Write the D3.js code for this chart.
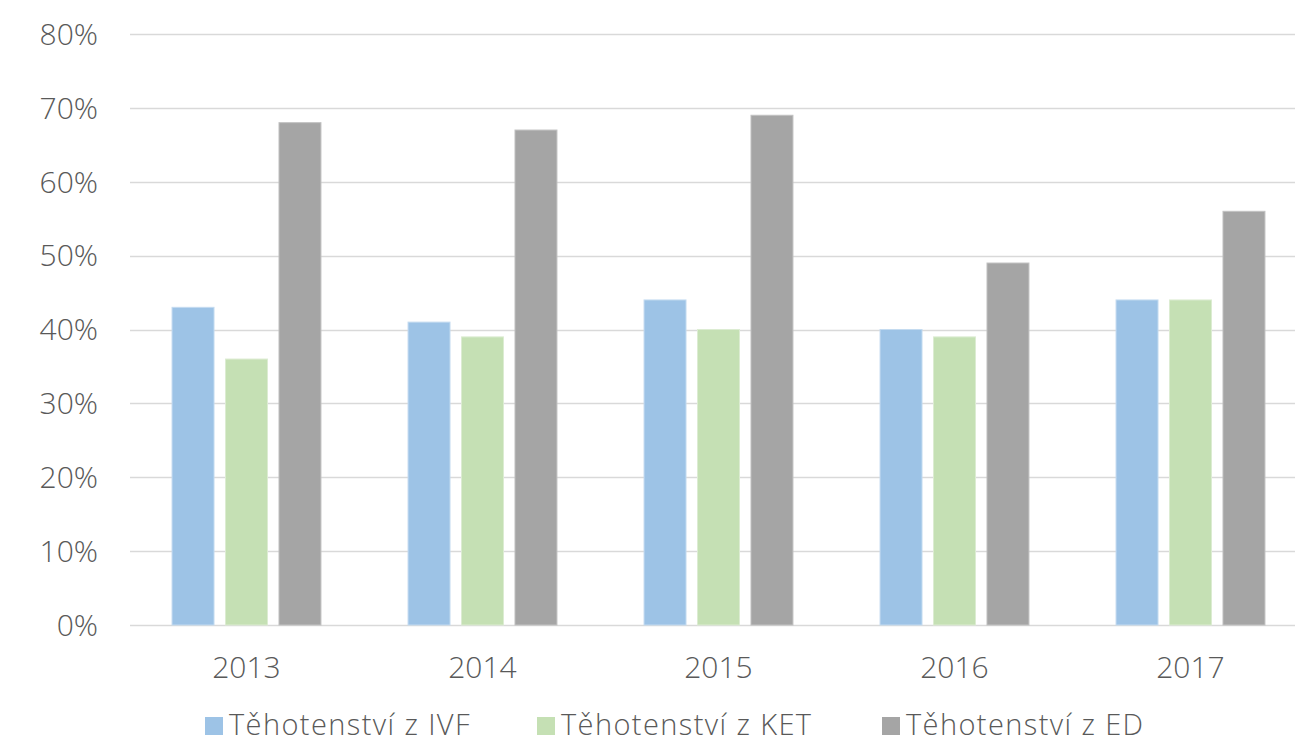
<!DOCTYPE html>
<html>
<head>
<meta charset="utf-8">
<script src="https://cdn.jsdelivr.net/npm/d3@7"></script>
<style>
  body { margin: 0; background: #fff; }
  svg { display: block; font-family: "Open Sans", sans-serif; font-weight: 300; }
</style>
</head>
<body>
<svg id="chart" width="1295" height="744"></svg>
<script>
const years = ['2013', '2014', '2015', '2016', '2017'];
const seriesNames = ['Těhotenství z IVF', 'Těhotenství z KET', 'Těhotenství z ED'];
const ivf = [0.43, 0.41, 0.44, 0.40, 0.44];
const ket = [0.36, 0.39, 0.40, 0.39, 0.44];
const ed = [0.68, 0.67, 0.69, 0.49, 0.56];
const yTicks = [0, 0.1, 0.2, 0.3, 0.4, 0.5, 0.6, 0.7, 0.8];
const colors = ['#9dc3e6', '#c5e0b4', '#a5a5a5'];
const borders = ['#c4dbf0', '#dcecd2', '#c2c2c2'];

const series = [ivf, ket, ed];
const svg = d3.select('#chart');
const textColor = '#595959';

const x0 = d3.scaleBand().domain(years).range([128.5, 1308.5]).paddingInner(0.369).paddingOuter(0.1845);
const x1 = d3.scaleBand().domain(d3.range(3)).range([0, x0.bandwidth()]).paddingInner(0.215);
const y = d3.scaleLinear().domain([0, 0.8]).range([625, 34]);

// gridlines
svg.append('g')
  .selectAll('line')
  .data(yTicks)
  .join('line')
  .attr('x1', 130).attr('x2', 1295)
  .attr('y1', d => Math.round(y(d)) + 0.5).attr('y2', d => Math.round(y(d)) + 0.5)
  .attr('stroke', '#d9d9d9').attr('stroke-width', 1.6);

// y labels
svg.append('g')
  .selectAll('text')
  .data(yTicks)
  .join('text')
  .attr('x', 98).attr('y', d => y(d))
  .attr('dy', '0.36em')
  .attr('text-anchor', 'end')
  .attr('fill', textColor)
  .style('font-size', '30px')
  .text(d => d3.format('.0%')(d));

// bars
const groups = svg.append('g')
  .selectAll('g')
  .data(years)
  .join('g')
  .attr('transform', d => `translate(${x0(d)},0)`);

groups.selectAll('rect')
  .data((d, i) => series.map((s, j) => ({ j, v: s[i] })))
  .join('rect')
  .attr('x', d => x1(d.j))
  .attr('width', x1.bandwidth())
  .attr('y', d => y(d.v))
  .attr('height', d => y(0) - y(d.v))
  .attr('fill', d => colors[d.j])
  .attr('stroke', d => borders[d.j])
  .attr('stroke-width', 1);

// x labels
svg.append('g')
  .selectAll('text')
  .data(years)
  .join('text')
  .attr('x', d => x0(d) + x0.bandwidth() / 2)
  .attr('y', 678)
  .attr('text-anchor', 'middle')
  .attr('fill', textColor)
  .style('font-size', '30px')
  .text(d => d);

// legend
const legendX = [205, 537, 882];
const legend = svg.append('g')
  .selectAll('g')
  .data(seriesNames)
  .join('g')
  .attr('transform', (d, i) => `translate(${legendX[i]},0)`);

legend.append('rect')
  .attr('x', 0).attr('y', 717)
  .attr('width', 18).attr('height', 18)
  .attr('fill', (d, i) => colors[i]);

legend.append('text')
  .attr('x', 24).attr('y', 735)
  .attr('fill', textColor)
  .style('font-size', '29px')
  .style('letter-spacing', '1.4px')
  .text(d => d);
</script>
</body>
</html>
